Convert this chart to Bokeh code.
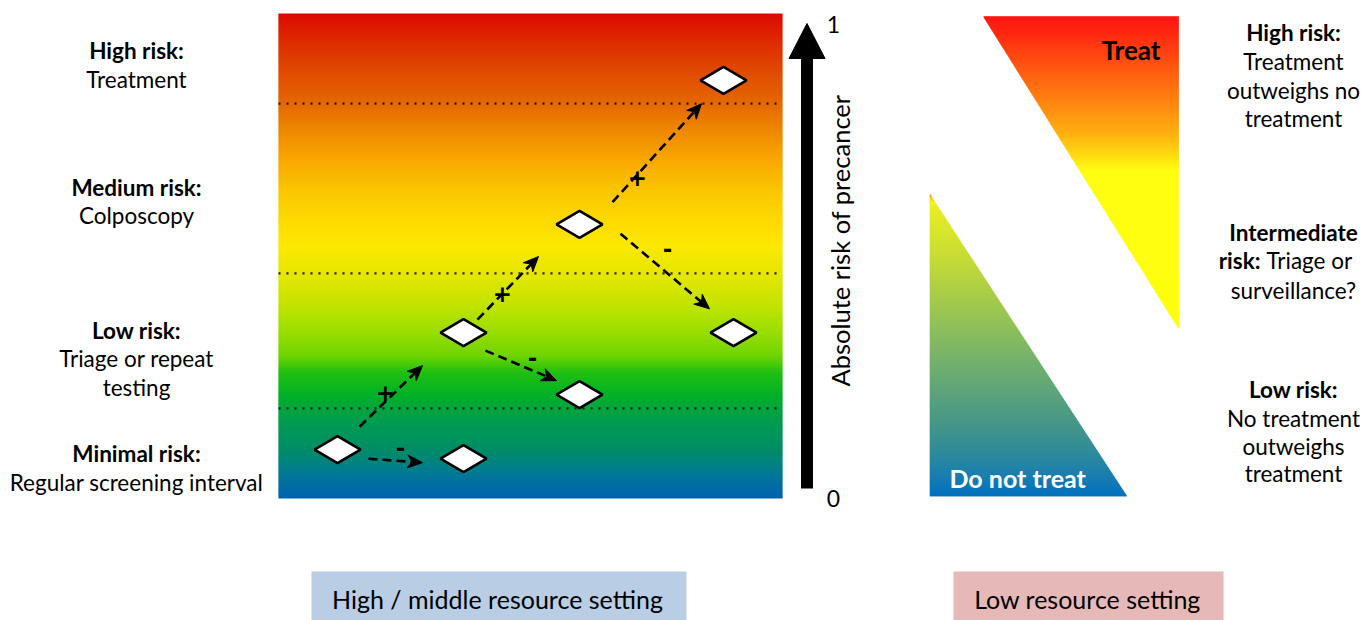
import numpy as np
from bokeh.plotting import figure
from bokeh.models import Range1d
from bokeh.embed import file_html
from bokeh.resources import INLINE
from bokeh.core.properties import value

# ---------------- data ----------------
# risk thresholds between the four risk bands (absolute risk, 0..1)
risk_thresholds = [0.814, 0.464, 0.186]
# diamonds: test results (x = step position on layout, risk = absolute risk)
diamond_x = [337, 463, 463, 579, 579, 733, 723]
diamond_risk = [0.101, 0.082, 0.342, 0.214, 0.565, 0.342, 0.862]
# dashed arrows between test results
arrow_x0 = [359, 368, 477, 485, 612, 620]
arrow_r0 = [0.148, 0.082, 0.369, 0.305, 0.611, 0.546]
arrow_x1 = [422, 422, 538, 556, 701, 709]
arrow_r1 = [0.274, 0.074, 0.499, 0.243, 0.814, 0.391]
arrow_sign = ["+", "-", "+", "-", "+", "-"]
sign_x = [385, 400, 502, 532, 637, 667]
sign_r = [0.219, 0.105, 0.423, 0.291, 0.662, 0.515]

left_heads = ["High risk:", "Medium risk:", "Low risk:", "Minimal risk:"]
left_heads_y = [50, 187, 330, 453]
left_lines = ["Treatment", "Colposcopy", "Triage or repeat", "testing", "Regular screening interval"]
left_lines_y = [79, 215, 358, 387, 482]

right_heads = ["High risk:", "Intermediate", "Low risk:"]
right_heads_y = [32, 232, 389]
right_lines = ["Treatment", "outweighs no", "treatment", "surveillance?", "No treatment", "outweighs", "treatment"]
right_lines_y = [61, 90, 118, 290, 418, 446, 473]

axis_title = "Absolute risk of precancer"
axis_ticks = ["1", "0"]
settings = ["High / middle resource setting", "Low resource setting"]

# ---------------- layout helpers ----------------
Y0, SCALE = 498.0, 485.0          # risk 0 -> y=498 px, risk 1 -> y=13 px
def ry(r):
    return Y0 - np.asarray(r, dtype=float) * SCALE

FONT = value("Lato")
LABEL_SIZE = "22.5px"

def hex2rgb(h):
    h = h.lstrip("#")
    return np.array([int(h[i:i + 2], 16) for i in (0, 2, 4)], dtype=float)

def interp_color(y, stops):
    ys = [s[0] for s in stops]
    cols = np.array([hex2rgb(s[1]) for s in stops])
    r = np.interp(y, ys, cols[:, 0]); g = np.interp(y, ys, cols[:, 1]); b = np.interp(y, ys, cols[:, 2])
    return "#%02x%02x%02x" % (int(round(r)), int(round(g)), int(round(b)))

p = figure(width=1364, height=620, x_range=Range1d(0, 1364), y_range=Range1d(620, 0),
           output_backend="svg", toolbar_location=None, min_border=0,
           x_axis_location=None, y_axis_location=None)
p.grid.visible = False
p.outline_line_color = None
p.background_fill_color = "white"

# ---------------- left gradient panel ----------------
L_LEFT, L_RIGHT, L_TOP, L_BOT = 278, 782, 13, 498
left_stops = [(13, "#DC0A00"), (40, "#DE2A00"), (70, "#E04A00"), (103, "#E56800"),
              (130, "#EE8800"), (160, "#FAA800"), (195, "#FBCA00"), (225, "#FDDC00"),
              (245, "#FCE800"), (273, "#E6E600"), (300, "#C8E400"), (330, "#9CDE00"),
              (355, "#70D400"), (372, "#20C010"), (395, "#00B028"), (420, "#009C50"),
              (450, "#008C68"), (475, "#007898"), (498, "#0060B0")]
rows = np.arange(L_TOP, L_BOT, 1.0)
p.quad(left=L_LEFT, right=L_RIGHT, top=rows, bottom=np.minimum(rows + 1.6, L_BOT),
       fill_color=[interp_color(y + 0.5, left_stops) for y in rows], line_color=None)

# dotted threshold lines
p.segment(x0=L_LEFT, x1=L_RIGHT, y0=ry(risk_thresholds), y1=ry(risk_thresholds),
          line_color="#1a1a1a", line_width=2.2, line_dash="2 6")

# dashed arrows with stealth heads
L_HEAD, W_HEAD, NOTCH = 15.0, 6.5, 4.5
bx0, by0, bx1, by1, hxs, hys = [], [], [], [], [], []
for x0, r0, x1, r1 in zip(arrow_x0, arrow_r0, arrow_x1, arrow_r1):
    y0, y1 = float(ry(r0)), float(ry(r1))
    d = np.array([x1 - x0, y1 - y0]); d /= np.linalg.norm(d)
    n = np.array([-d[1], d[0]])
    tip = np.array([x1, y1])
    back = tip - L_HEAD * d
    notch = tip - (L_HEAD - NOTCH) * d
    bl = back + W_HEAD * n; br = back - W_HEAD * n
    bx0.append(x0); by0.append(y0); bx1.append(notch[0]); by1.append(notch[1])
    hxs.append([tip[0], bl[0], notch[0], br[0]]); hys.append([tip[1], bl[1], notch[1], br[1]])
p.segment(x0=bx0, y0=by0, x1=bx1, y1=by1, line_color="black", line_width=2.6, line_dash="9 5")
p.patches(xs=hxs, ys=hys, fill_color="black", line_color="black", line_width=1)

# +/- signs
p.text(x=sign_x, y=ry(sign_r), text=arrow_sign, text_align="center", text_baseline="middle",
       text_font=value("DejaVu Sans"), text_font_size="23px", text_font_style="bold",
       text_color="black")

# diamonds
DW, DH = 23, 13.5
dxs = [[x - DW, x, x + DW, x] for x in diamond_x]
dys = [[y, y - DH, y, y + DH] for y in ry(diamond_risk)]
p.patches(xs=dxs, ys=dys, fill_color="white", line_color="black", line_width=2.6)

# big vertical arrow
AX, SHAFT_W, HEAD_W = 806.5, 12, 36
tip_y, base_y, bot_y = float(ry(1.0)) + 10, float(ry(1.0)) + 45, float(ry(0.0)) - 10
p.quad(left=AX - SHAFT_W / 2, right=AX + SHAFT_W / 2, top=base_y - 1, bottom=bot_y,
       fill_color="black", line_color=None)
p.patch(x=[AX, AX - HEAD_W / 2, AX + HEAD_W / 2], y=[tip_y, base_y, base_y],
        fill_color="black", line_color="black")
p.text(x=[833, 833], y=[float(ry(1.0)) + 11, float(ry(0.0))], text=axis_ticks,
       text_align="center", text_baseline="middle", text_font=FONT, text_font_size="23px",
       text_color="black")
p.text(x=[839], y=[240], text=[axis_title], angle=np.pi / 2, text_align="center",
       text_baseline="middle", text_font=FONT, text_font_size="25.5px", text_color="black")

# left labels
p.text(x=136, y=left_heads_y, text=left_heads, text_align="center", text_baseline="middle",
       text_font=FONT, text_font_size=LABEL_SIZE, text_font_style="bold", text_color="black")
p.text(x=136, y=left_lines_y, text=left_lines, text_align="center", text_baseline="middle",
       text_font=FONT, text_font_size=LABEL_SIZE, text_color="black")

# ---------------- right panel: triangles ----------------
# upper triangle (Treat)
UT_L, UT_R, UT_T, UT_B = 982.7, 1178.3, 15.7, 328.3
up_stops = [(15.7, "#FF0400"), (33, "#FF1A00"), (66, "#FF4A00"), (100, "#FF7A00"),
            (133, "#FFAA00"), (155, "#FFD800"), (170, "#FFFC00"), (328.3, "#FFFF00")]
rows_u = np.arange(UT_T, UT_B, 1.0)
lefts_u = UT_L + (rows_u + 0.5 - UT_T) / (UT_B - UT_T) * (UT_R - UT_L)
p.quad(left=lefts_u, right=UT_R, top=rows_u, bottom=np.minimum(rows_u + 1.6, UT_B),
       fill_color=[interp_color(y + 0.5, up_stops) for y in rows_u], line_color=None)

# lower triangle (Do not treat)
LT_L, LT_R, LT_T, LT_B = 929.3, 1126.7, 193.3, 495.7
lo_stops = [(193.3, "#FF3000"), (197, "#FFC800"), (202, "#F2F020"), (215, "#E2EA26"),
            (240, "#D2E22E"), (270, "#BCD63C"), (300, "#A4CA4C"), (330, "#8CBE5C"),
            (360, "#74B26C"), (390, "#5EA47A"), (420, "#489886"), (450, "#308C98"),
            (475, "#1A7EB0"), (495.7, "#0070C0")]
rows_l = np.arange(LT_T, LT_B, 1.0)
rights_l = LT_L + (rows_l + 0.5 - LT_T) / (LT_B - LT_T) * (LT_R - LT_L)
p.quad(left=LT_L, right=rights_l, top=rows_l, bottom=np.minimum(rows_l + 1.6, LT_B),
       fill_color=[interp_color(y + 0.5, lo_stops) for y in rows_l], line_color=None)

p.text(x=[1160], y=[49], text=["Treat"], text_align="right", text_baseline="middle",
       text_font=FONT, text_font_size="26px", text_font_style="bold", text_color="black")
p.text(x=[949], y=[477], text=["Do not treat"], text_align="left", text_baseline="middle",
       text_font=FONT, text_font_size="25px", text_font_style="bold", text_color="white")

# right labels
p.text(x=1293, y=right_heads_y, text=right_heads, text_align="center", text_baseline="middle",
       text_font=FONT, text_font_size=LABEL_SIZE, text_font_style="bold", text_color="black")
p.text(x=1293, y=right_lines_y, text=right_lines, text_align="center", text_baseline="middle",
       text_font=FONT, text_font_size=LABEL_SIZE, text_color="black")
p.text(x=[1260], y=[260], text=["risk:"], text_align="right", text_baseline="middle",
       text_font=FONT, text_font_size=LABEL_SIZE, text_font_style="bold", text_color="black")
p.text(x=[1266], y=[260], text=["Triage or"], text_align="left", text_baseline="middle",
       text_font=FONT, text_font_size=LABEL_SIZE, text_color="black")

# ---------------- bottom setting boxes ----------------
p.quad(left=[311, 953], right=[686, 1223], top=[571, 571], bottom=[620, 620],
       fill_color=["#B9CDE5", "#E6B9B8"], line_color=None)
p.text(x=[497, 1087], y=[598, 598], text=settings, text_align="center", text_baseline="middle",
       text_font=FONT, text_font_size="25px", text_color="black")

open("out.html", "w").write(file_html(p, INLINE))
